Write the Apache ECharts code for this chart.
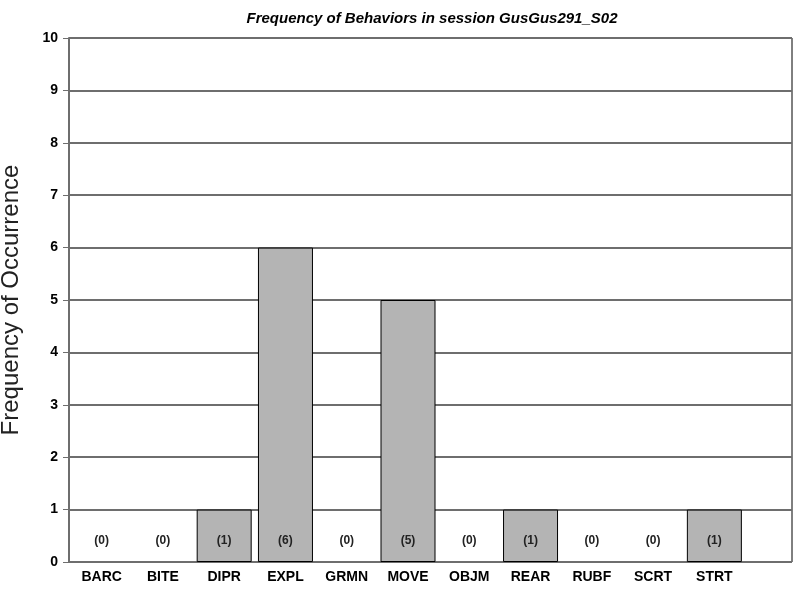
<!DOCTYPE html>
<html>
<head>
<meta charset="utf-8">
<script src="https://cdn.jsdelivr.net/npm/echarts@6/dist/echarts.min.js"></script>
<style>
html,body{margin:0;padding:0;background:#fff;}
#c{width:798px;height:591px;}
</style>
</head>
<body>
<div id="c"></div>
<script>
const categories = ['BARC','BITE','DIPR','EXPL','GRMN','MOVE','OBJM','REAR','RUBF','SCRT','STRT'];
const counts = [0,0,1,6,0,5,0,1,0,0,1];
const yTicks = [0,1,2,3,4,5,6,7,8,9,10];

const font = '"Liberation Sans", Arial, sans-serif';
const barData = counts.map(v => v === 0 ? {value:v, itemStyle:{borderWidth:0}} : v);
const chart = echarts.init(document.getElementById('c'), null, {renderer:'canvas'});
chart.setOption({
  animation:false,
  backgroundColor:'#fff',
  title:{
    text:'Frequency of Behaviors in session GusGus291_S02',
    left:427, top:6, textAlign:'center',
    textStyle:{fontFamily:font,fontSize:15,fontWeight:'bold',fontStyle:'italic',color:'#000'}
  },
  grid:[
    {left:71,right:53,top:38,bottom:29,show:false,outerBoundsMode:'none',containLabel:false},
    {left:69,right:6,top:38,bottom:29,show:true,borderColor:'#000',borderWidth:1,backgroundColor:'transparent',outerBoundsMode:'none',containLabel:false}
  ],
  xAxis:[
    {type:'category',gridIndex:0,data:categories,boundaryGap:true,
     axisLine:{show:false},axisTick:{show:false},
     axisLabel:{fontFamily:font,fontSize:14,fontWeight:'bold',color:'#000',margin:8}},
    {type:'value',gridIndex:1,min:0,max:1,show:false}
  ],
  yAxis:[
    {type:'value',gridIndex:0,min:yTicks[0],max:yTicks[yTicks.length-1],interval:1,show:false},
    {type:'value',gridIndex:1,min:yTicks[0],max:yTicks[yTicks.length-1],interval:1,
     name:'Frequency of Occurrence',nameLocation:'middle',nameGap:46,
     nameTextStyle:{fontFamily:font,fontSize:24,color:'#222'},
     axisLine:{show:true,lineStyle:{color:'#6e6e6e',width:2}},
     axisTick:{show:true,length:6,lineStyle:{color:'#6e6e6e',width:1}},
     axisLabel:{fontFamily:font,fontSize:14,fontWeight:'bold',color:'#000',margin:11},
     splitLine:{show:true,lineStyle:{color:'#6e6e6e',width:2}}}
  ],
  series:[
    {type:'bar',xAxisIndex:0,yAxisIndex:0,data:barData,barWidth:55,
     itemStyle:{color:'#b4b4b4',borderColor:'#000',borderWidth:1},
     label:{show:true,position:'insideBottom',distance:15,formatter:'({c})',
       fontFamily:font,fontSize:12,fontWeight:'bold',color:'#222'},
     z:3}
  ]
});
</script>
</body>
</html>
